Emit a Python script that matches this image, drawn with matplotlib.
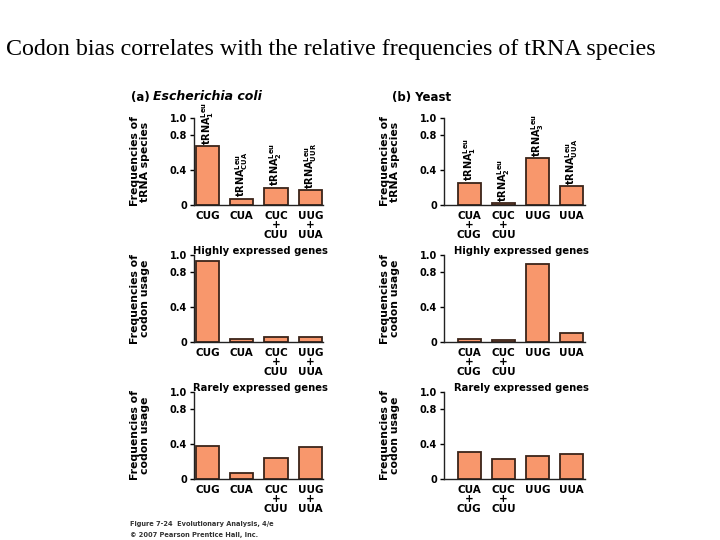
import matplotlib
matplotlib.use("Agg")
import matplotlib.pyplot as plt

# codon categories
ecoli_codons = ["CUG", "CUA", "CUC\n+\nCUU", "UUG\n+\nUUA"]
yeast_codons = ["CUA\n+\nCUG", "CUC\n+\nCUU", "UUG", "UUA"]

# tRNA subscripts shown over the top-row bars
ecoli_trna = ["1", "CUA", "2", "UUR"]
yeast_trna = ["1", "2", "3", "UUA"]

# frequencies of tRNA species
ecoli_trna_freq = [0.674, 0.072, 0.195, 0.168]
yeast_trna_freq = [0.253, 0.020, 0.536, 0.214]

# codon usage, highly expressed genes
ecoli_high = [0.93, 0.03, 0.06, 0.053]
yeast_high = [0.038, 0.023, 0.897, 0.099]

# codon usage, rarely expressed genes
ecoli_rare = [0.378, 0.066, 0.243, 0.363]
yeast_rare = [0.313, 0.228, 0.259, 0.282]

yticks = [0, 0.4, 0.8, 1.0]
ytick_labels = ["0", "0.4", "0.8", "1.0"]

BAR = "#f8976c"
EDGE = "#3b2419"
SANS = "DejaVu Sans"

W, H = 720, 540
fig = plt.figure(figsize=(7.2, 5.4), dpi=100)


def px_axes(x0, x1, y_top, y_bot):
    return fig.add_axes([x0 / W, 1 - y_bot / H, (x1 - x0) / W, (y_bot - y_top) / H])


def panel(ax, values, labels, xlim, ylabel, trna=None):
    x = range(len(values))
    ax.bar(x, values, width=0.68, color=BAR, edgecolor=EDGE, linewidth=1.3, zorder=2)
    ax.set_xlim(*xlim)
    ax.set_ylim(0, 1.0)
    for s in ("top", "right"):
        ax.spines[s].set_visible(False)
    for s in ("left", "bottom"):
        ax.spines[s].set_linewidth(1.0)
        ax.spines[s].set_color("#222222")
    ax.set_yticks(yticks)
    ax.set_yticklabels(ytick_labels, fontsize=7, fontweight="bold", family=SANS)
    ax.tick_params(axis="y", length=3, width=1, pad=2)
    ax.set_xticks(list(x))
    ax.set_xticklabels(labels, fontsize=7.5, fontweight="bold", family=SANS, linespacing=0.95)
    ax.tick_params(axis="x", length=0, pad=4)
    ax.set_ylabel(ylabel, fontsize=7.8, fontweight="bold", family=SANS, linespacing=1.0, labelpad=14)
    if trna:
        for i, (v, sub) in enumerate(zip(values, trna)):
            ax.text(i, v + 0.02, r"$\mathbf{tRNA}^{\mathbf{Leu}}_{\mathbf{%s}}$" % sub,
                    rotation=90, ha="center", va="bottom", fontsize=7, clip_on=False)


def subtitle(xc, yc, text):
    fig.text(xc / W, 1 - yc / H, text, ha="center", va="center",
             fontsize=7.2, fontweight="bold", family=SANS)


left_xlim = (-0.39, 3.37)
right_xlim = (-0.74, 3.39)
ylab_trna = "Frequencies of\ntRNA species"
ylab_codon = "Frequencies of\ncodon usage"

ax = px_axes(194, 323, 118, 205)
panel(ax, ecoli_trna_freq, ecoli_codons, left_xlim, ylab_trna, trna=ecoli_trna)
ax = px_axes(444, 585, 118, 205)
panel(ax, yeast_trna_freq, yeast_codons, right_xlim, ylab_trna, trna=yeast_trna)

ax = px_axes(194, 323, 255, 342)
panel(ax, ecoli_high, ecoli_codons, left_xlim, ylab_codon)
ax = px_axes(444, 585, 255, 342)
panel(ax, yeast_high, yeast_codons, right_xlim, ylab_codon)

ax = px_axes(194, 323, 392, 479)
panel(ax, ecoli_rare, ecoli_codons, left_xlim, ylab_codon)
ax = px_axes(444, 585, 392, 479)
panel(ax, yeast_rare, yeast_codons, right_xlim, ylab_codon)

subtitle(260, 251, "Highly expressed genes")
subtitle(521, 251, "Highly expressed genes")
subtitle(260, 388, "Rarely expressed genes")
subtitle(521, 388, "Rarely expressed genes")

# panel headings
fig.text(131 / W, 1 - 97 / H, "(a)", fontsize=8.5, fontweight="bold", family=SANS, va="center")
fig.text(153 / W, 1 - 97 / H, "Escherichia coli", fontsize=9, fontweight="bold",
         style="italic", family=SANS, va="center")
fig.text(392 / W, 1 - 97 / H, "(b) Yeast", fontsize=8.5, fontweight="bold", family=SANS, va="center")

# slide title
fig.text(6 / W, 1 - 49 / H, "Codon bias correlates with the relative frequencies of tRNA species",
         fontsize=17.3, family="Liberation Serif", va="center")

# credits
fig.text(130 / W, 1 - 524 / H, "Figure 7-24  Evolutionary Analysis, 4/e", fontsize=4.8,
         fontweight="bold", family=SANS, va="center", color="#333333")
fig.text(130 / W, 1 - 535 / H, "\u00a9 2007 Pearson Prentice Hall, Inc.", fontsize=4.8,
         fontweight="bold", family=SANS, va="center", color="#333333")

fig.savefig("out.png", dpi=100)
